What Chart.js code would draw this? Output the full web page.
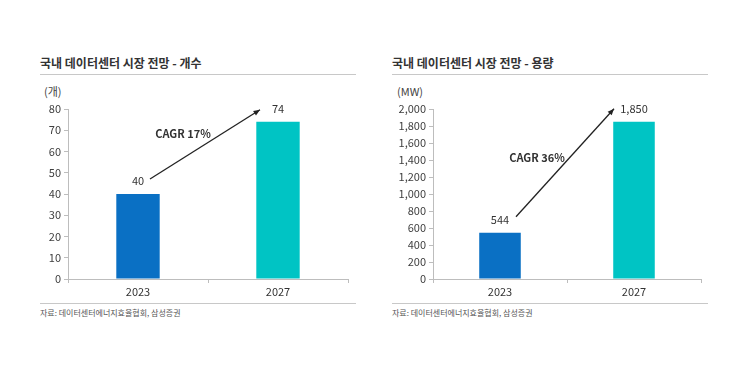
<!DOCTYPE html>
<html>
<head>
<meta charset="utf-8">
<script src="https://cdn.jsdelivr.net/npm/chart.js@4.4.1/dist/chart.umd.min.js"></script>
<style>
    body { margin: 0; background: #fff; width: 754px; height: 375px; position: relative; overflow: hidden;
           font-family: 'Noto Sans CJK KR', sans-serif; }
    .title { position: absolute; top: 54px; font-size: 12px; font-weight: bold; color: #333; white-space: nowrap; }
    .rule { position: absolute; height: 1px; background: #c8c8c8; }
    .unit { position: absolute; top: 83px; font-size: 11px; color: #444; }
    .source { position: absolute; top: 307px; font-size: 8px; color: #555; white-space: nowrap; }
    canvas { position: absolute; top: 0; }
</style>
</head>
<body>
<div class="title" style="left:40px">국내 데이터센터 시장 전망 - 개수</div>
<div class="rule" style="left:40px; width:316px; top:74px"></div>
<div class="unit" style="left:44px">(개)</div>
<div class="rule" style="left:40px; width:316px; top:303px"></div>
<div class="source" style="left:40px">자료: 데이터센터에너지효율협회, 삼성증권</div>

<div class="title" style="left:392px">국내 데이터센터 시장 전망 - 용량</div>
<div class="rule" style="left:392px; width:316px; top:74px"></div>
<div class="unit" style="left:397px">(MW)</div>
<div class="rule" style="left:392px; width:316px; top:303px"></div>
<div class="source" style="left:392px">자료: 데이터센터에너지효율협회, 삼성증권</div>

<canvas id="countChart" width="377" height="375" style="left:0"></canvas>
<canvas id="capacityChart" width="377" height="375" style="left:377px"></canvas>

<script>
// data
const years = ['2023', '2027'];
const countValues = [40, 74];
const capacityValues = [544, 1850];
const countCagr = 'CAGR 17%';
const capacityCagr = 'CAGR 36%';

Chart.defaults.font.family = "'Noto Sans CJK KR', sans-serif";
Chart.defaults.color = '#404040';

const barColors = ['#0A70C4', '#00C4C4'];

// value labels, growth arrow and CAGR text
const annotate = {
    id: 'annotate',
    afterDatasetsDraw(chart, args, opts) {
        const ctx = chart.ctx;
        const x = chart.scales.x, y = chart.scales.y;
        const vals = chart.data.datasets[0].data;
        const pts = vals.map((v, i) => ({ x: x.getPixelForValue(i), y: y.getPixelForValue(v) - 13 }));
        ctx.save();
        ctx.font = "11px 'Noto Sans CJK KR', sans-serif";
        ctx.fillStyle = '#333';
        ctx.textAlign = 'center';
        ctx.textBaseline = 'middle';
        vals.forEach((v, i) => ctx.fillText(v.toLocaleString('en-US'), pts[i].x, pts[i].y));

        const sx = pts[0].x + opts.start[0], sy = pts[0].y + opts.start[1];
        const ex = pts[1].x + opts.end[0], ey = pts[1].y + opts.end[1];
        ctx.strokeStyle = '#222';
        ctx.lineWidth = 1.3;
        ctx.beginPath();
        ctx.moveTo(sx, sy);
        ctx.lineTo(ex, ey);
        ctx.stroke();
        const ang = Math.atan2(ey - sy, ex - sx);
        ctx.fillStyle = '#222';
        ctx.beginPath();
        ctx.moveTo(ex, ey);
        ctx.lineTo(ex - 7 * Math.cos(ang - 0.4), ey - 7 * Math.sin(ang - 0.4));
        ctx.lineTo(ex - 7 * Math.cos(ang + 0.4), ey - 7 * Math.sin(ang + 0.4));
        ctx.closePath();
        ctx.fill();

        ctx.font = "bold 11px 'Noto Sans CJK KR', sans-serif";
        ctx.fillStyle = '#333';
        ctx.fillText(opts.text, (sx + ex) / 2 + opts.textOffset[0], (sy + ey) / 2 + opts.textOffset[1]);
        ctx.restore();
    }
};

function makeBarChart(canvasId, values, yMax, step, padLeft, padRight, cagr) {
    const ctx = document.getElementById(canvasId);
    return new Chart(ctx, {
        type: 'bar',
        data: {
            labels: years,
            datasets: [{ data: values, backgroundColor: barColors, categoryPercentage: 1, barPercentage: 0.31 }]
        },
        options: {
            responsive: false,
            animation: false,
            layout: { padding: { left: padLeft, right: padRight, top: 109, bottom: 66 } },
            plugins: { legend: { display: false }, tooltip: { enabled: false }, annotate: cagr },
            scales: {
                x: {
                    grid: { drawOnChartArea: false, tickLength: 4, color: '#bdbdbd' },
                    border: { color: '#bdbdbd' },
                    ticks: { font: { size: 11 }, color: '#333', padding: 2 },
                    afterFit: s => { s.height = 30; }
                },
                y: {
                    min: 0, max: yMax,
                    grid: { drawOnChartArea: false, tickLength: 4, color: '#bdbdbd' },
                    border: { color: '#bdbdbd' },
                    ticks: { stepSize: step, font: { size: 11 }, color: '#404040', padding: 3,
                             callback: v => v.toLocaleString('en-US') },
                    afterFit: s => { s.width = 40; }
                }
            }
        },
        plugins: [annotate]
    });
}

makeBarChart('countChart', countValues, 80, 10, 28, 29,
    { text: countCagr, start: [12, -2], end: [-18, 1], textOffset: [-22, -11] });
makeBarChart('capacityChart', capacityValues, 2000, 200, 16, 53,
    { text: capacityCagr, start: [16, -3], end: [-20, 0], textOffset: [-28, -5] });
</script>
</body>
</html>
